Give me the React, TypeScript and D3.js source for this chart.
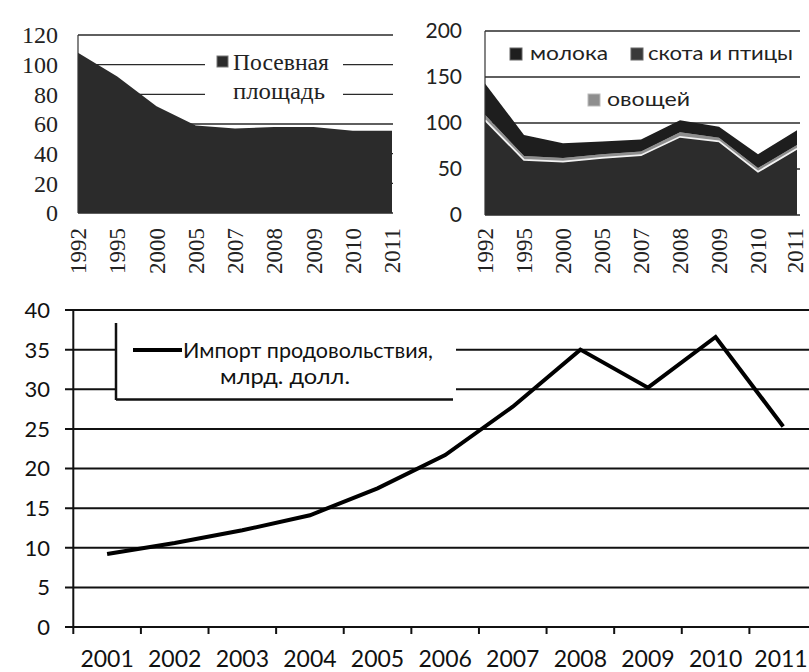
import React from "react";
import * as d3 from "d3";

const yearsTop = ["1992", "1995", "2000", "2005", "2007", "2008", "2009", "2010", "2011"];
const sownArea = [108, 92, 72, 59, 57, 58, 58, 55.5, 55.5];
const ticksTL = [0, 20, 40, 60, 80, 100, 120];

const livestock = [103, 60, 58, 62, 65, 85, 80, 47, 72];
const vegetables = [6, 4, 4, 4, 4, 5, 4, 4, 4];
const milk = [34, 23, 16, 14, 13, 13, 12, 15, 16];
const ticksTR = [0, 50, 100, 150, 200];

const yearsB = ["2001", "2002", "2003", "2004", "2005", "2006", "2007", "2008", "2009", "2010", "2011"];
const foodImport = [9.2, 10.6, 12.2, 14.1, 17.5, 21.7, 27.8, 35.0, 30.2, 36.6, 25.3];
const ticksB = [0, 5, 10, 15, 20, 25, 30, 35, 40];

const SERIF = "'Liberation Serif', 'DejaVu Serif', serif";
const SANS = "Lato, 'Open Sans', 'Liberation Sans', sans-serif";

export default function App() {
  // top-left
  const xTL = d3.scalePoint<string>().domain(yearsTop).range([78, 392]);
  const yTL = d3.scaleLinear().domain([0, 120]).range([213, 35]);
  const areaTL = d3
    .area<number>()
    .x((_, i) => xTL(yearsTop[i]) as number)
    .y0(yTL(0))
    .y1((d) => yTL(d));

  // top-right stacked
  const xTR = d3.scalePoint<string>().domain(yearsTop).range([485, 797]);
  const yTR = d3.scaleLinear().domain([0, 200]).range([215, 31]);
  const rows = yearsTop.map((y, i) => ({ year: y, livestock: livestock[i], vegetables: vegetables[i], milk: milk[i] }));
  const stacked = d3.stack<any>().keys(["livestock", "vegetables", "milk"])(rows);
  const areaTR = d3
    .area<any>()
    .x((d) => xTR(d.data.year) as number)
    .y0((d) => yTR(d[0]))
    .y1((d) => yTR(d[1]));
  const lineTR = d3
    .line<any>()
    .x((d) => xTR(d.data.year) as number)
    .y((d) => yTR(d[1]));
  const fillsTR = ["#2c2c2c", "#8e8e8e", "#1e1e1e"];

  // bottom
  const xB = d3.scaleBand<string>().domain(yearsB).range([73.3, 817]).padding(0);
  const yB = d3.scaleLinear().domain([0, 40]).range([627, 310]);
  const lineB = d3
    .line<number>()
    .x((_, i) => (xB(yearsB[i]) as number) + xB.bandwidth() / 2)
    .y((d) => yB(d));

  return (
    <svg
      width={809}
      height={672}
      style={{ position: "absolute", left: 0, top: 0, background: "#fff", display: "block" }}
    >
      <rect x={0} y={0} width={809} height={672} fill="#fff" />

      {/* ===== Top-left chart ===== */}
      <g>
        {ticksTL.map((t) => (
          <line key={t} x1={78} x2={393} y1={yTL(t)} y2={yTL(t)} stroke="#2a2a2a" strokeWidth={1.4} />
        ))}
        <path d={areaTL(sownArea) as string} fill="#2b2b2b" />
        <line x1={78} x2={78} y1={yTL(120)} y2={yTL(0)} stroke="#333" strokeWidth={1.2} />
        {ticksTL.map((t) => (
          <text key={t} x={58} y={yTL(t)} dy="0.35em" textAnchor="end" fontFamily={SERIF} fontSize={24} fill="#222">
            {t}
          </text>
        ))}
        {yearsTop.map((y) => (
          <text
            key={y}
            transform={`translate(${xTL(y)},228) rotate(-90)`}
            dy="0.35em"
            textAnchor="end"
            fontFamily={SERIF}
            fontSize={23}
            fill="#222"
          >
            {y}
          </text>
        ))}
        {/* legend */}
        <rect x={205} y={46} width={138} height={64} fill="#fff" />
        <rect x={217} y={56} width={11} height={11} fill="#2b2b2b" stroke="#777" strokeWidth={1} />
        <text x={233} y={70} fontFamily={SERIF} fontSize={23} fill="#222" textLength={96} lengthAdjust="spacingAndGlyphs">
          Посевная
        </text>
        <text x={233} y={99} fontFamily={SERIF} fontSize={23} fill="#222" textLength={92} lengthAdjust="spacingAndGlyphs">
          площадь
        </text>
      </g>

      {/* ===== Top-right chart ===== */}
      <g>
        {ticksTR.map((t) => (
          <line key={t} x1={485} x2={800} y1={yTR(t)} y2={yTR(t)} stroke="#2a2a2a" strokeWidth={1.4} />
        ))}
        {stacked.map((s, i) => (
          <path key={s.key} d={areaTR(s) as string} fill={fillsTR[i]} />
        ))}
        <path d={lineTR(stacked[0]) as string} fill="none" stroke="#f2f2f2" strokeWidth={1.8} />
        <line x1={485} x2={485} y1={yTR(200)} y2={yTR(0)} stroke="#333" strokeWidth={1.2} />
        {ticksTR.map((t) => (
          <text key={t} x={462} y={yTR(t)} dy="0.35em" textAnchor="end" fontFamily={SANS} fontSize={21} fill="#222">
            {t}
          </text>
        ))}
        {yearsTop.map((y) => (
          <text
            key={y}
            transform={`translate(${Math.min(xTR(y) as number, 795)},228) rotate(-90)`}
            dy="0.35em"
            textAnchor="end"
            fontFamily={SERIF}
            fontSize={23}
            fill="#222"
          >
            {y}
          </text>
        ))}
        {/* legend */}
        <rect x={510} y={48} width={12} height={12} fill="#1e1e1e" stroke="#666" strokeWidth={1} />
        <text x={530} y={60} fontFamily={SANS} fontSize={20} fill="#222" textLength={78} lengthAdjust="spacingAndGlyphs">
          молока
        </text>
        <rect x={631} y={48} width={12} height={12} fill="#3a3a3a" stroke="#666" strokeWidth={1} />
        <text x={648} y={60} fontFamily={SANS} fontSize={20} fill="#222" textLength={145} lengthAdjust="spacingAndGlyphs">
          скота и птицы
        </text>
        <rect x={588} y={94} width={12} height={12} fill="#8e8e8e" stroke="#bbb" strokeWidth={1} />
        <text x={607} y={106} fontFamily={SANS} fontSize={20} fill="#222" textLength={83} lengthAdjust="spacingAndGlyphs">
          овощей
        </text>
      </g>

      {/* ===== Bottom chart ===== */}
      <g>
        {ticksB.map((t) => (
          <line key={t} x1={65} x2={809} y1={yB(t)} y2={yB(t)} stroke="#111" strokeWidth={2} />
        ))}
        <line x1={73.3} x2={73.3} y1={yB(40)} y2={yB(0)} stroke="#111" strokeWidth={2} />
        {yearsB.map((y) => (
          <line
            key={y}
            x1={(xB(y) as number) + xB.bandwidth()}
            x2={(xB(y) as number) + xB.bandwidth()}
            y1={yB(0)}
            y2={yB(0) + 7}
            stroke="#111"
            strokeWidth={2}
          />
        ))}
        <line x1={73.3} x2={73.3} y1={yB(0)} y2={yB(0) + 7} stroke="#111" strokeWidth={2} />
        {ticksB.map((t) => (
          <text key={t} x={50} y={yB(t)} dy="0.36em" textAnchor="end" fontFamily={SANS} fontSize={22} fill="#111">
            {t}
          </text>
        ))}
        {yearsB.map((y) => (
          <text
            key={y}
            x={Math.min((xB(y) as number) + xB.bandwidth() / 2, 781)}
            y={667}
            textAnchor="middle"
            fontFamily={SANS}
            fontSize={23}
            fill="#111"
          >
            {y}
          </text>
        ))}
        {/* legend */}
        <rect x={116} y={323} width={340} height={76} fill="#fff" />
        <line x1={116} x2={116} y1={323} y2={400} stroke="#111" strokeWidth={2.5} />
        <line x1={116} x2={453} y1={399.5} y2={399.5} stroke="#111" strokeWidth={2.5} />
        <line x1={133} x2={182} y1={350} y2={350} stroke="#000" strokeWidth={4} />
        <text x={183} y={358} fontFamily={SANS} fontSize={21} fill="#111" textLength={250} lengthAdjust="spacingAndGlyphs">
          Импорт продовольствия,
        </text>
        <text x={220} y={384} fontFamily={SANS} fontSize={21} fill="#111" textLength={130} lengthAdjust="spacingAndGlyphs">
          млрд. долл.
        </text>
        <path d={lineB(foodImport) as string} fill="none" stroke="#000" strokeWidth={4} strokeLinejoin="miter" />
      </g>
    </svg>
  );
}
